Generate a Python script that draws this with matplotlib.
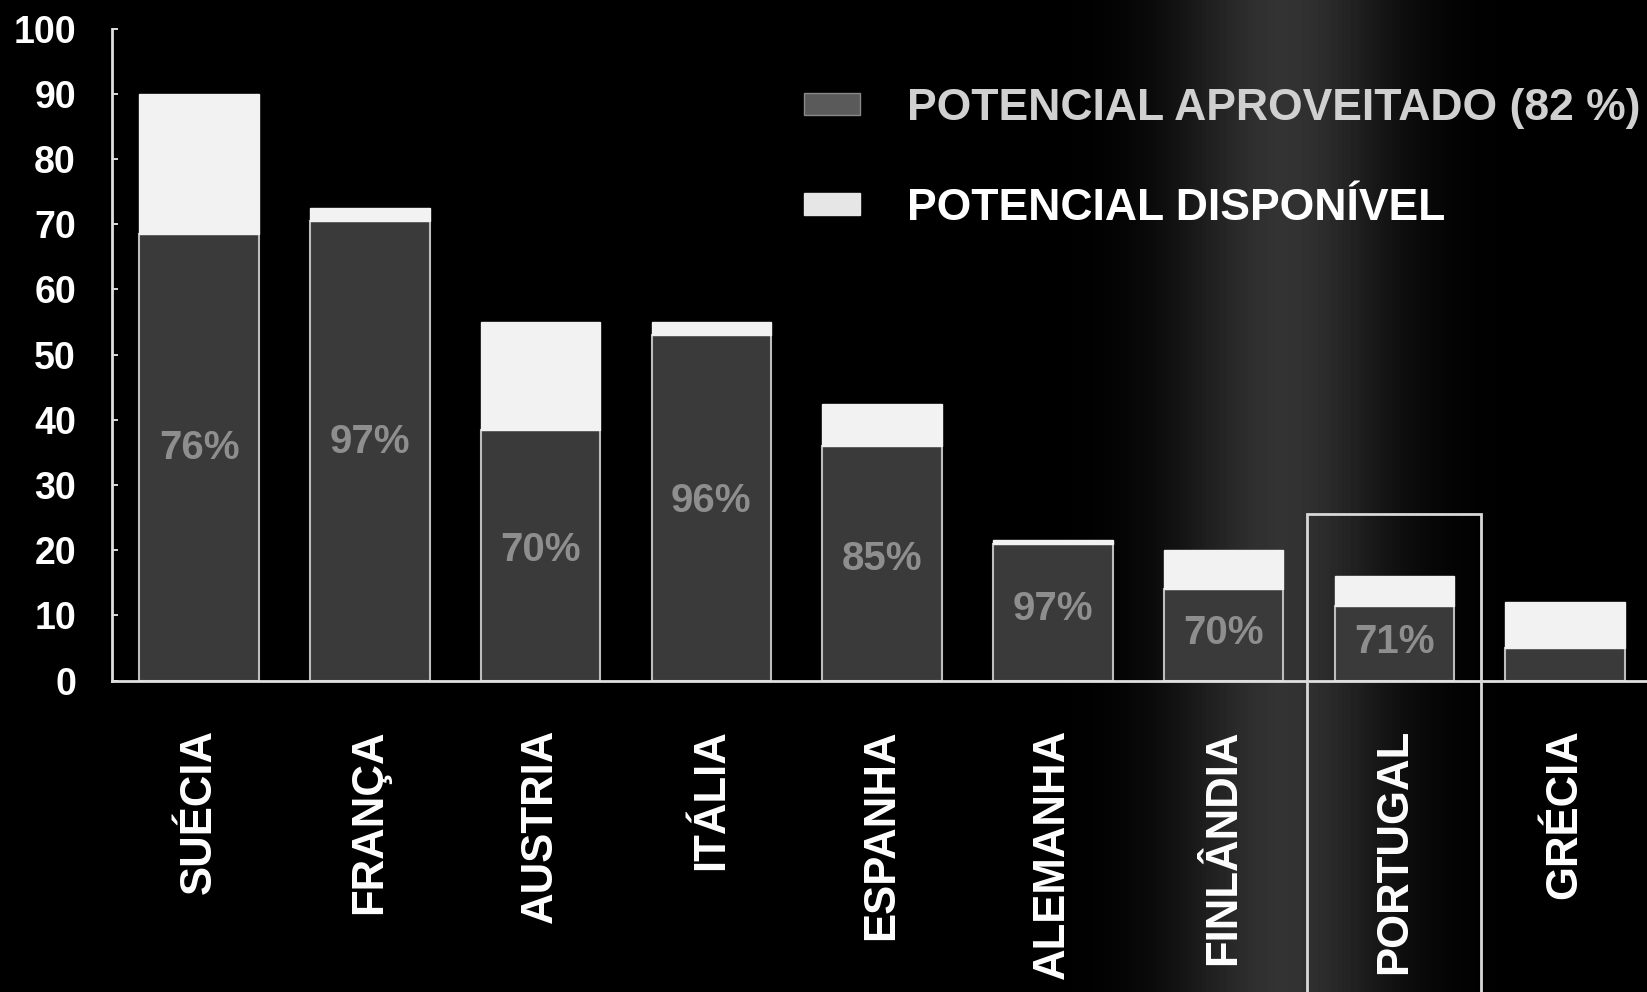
import matplotlib
matplotlib.use("Agg")
import matplotlib.pyplot as plt
from matplotlib.patches import Patch, Rectangle
import numpy as np

countries = ["SUÉCIA", "FRANÇA", "AUSTRIA", "ITÁLIA", "ESPANHA",
             "ALEMANHA", "FINLÂNDIA", "PORTUGAL", "GRÉCIA"]
total = [90, 72.5, 55, 55, 42.5, 21.5, 20, 16, 12]
used = [68.5, 70.5, 38.5, 53, 36, 21, 14, 11.5, 5]
pct_labels = ["76%", "97%", "70%", "96%", "85%", "97%", "70%", "71%", ""]
yticks = [0, 10, 20, 30, 40, 50, 60, 70, 80, 90, 100]
legend_labels = ["POTENCIAL APROVEITADO (82 %)", "POTENCIAL DISPONÍVEL"]
highlight = "PORTUGAL"
highlight_top = 25.6

plt.rcParams['font.family'] = ['Liberation Sans', 'DejaVu Sans']

fig = plt.figure(figsize=(16.47, 9.92), dpi=100, facecolor='black')

# faint scan band in the background
bg = fig.add_axes([0, 0, 1, 1], zorder=0)
bg.set_axis_off()
xs = np.linspace(0, 1, 400)
band = np.exp(-((xs - 0.78) / 0.065) ** 2) * 0.2
bg.imshow(band[None, :], aspect='auto', cmap='gray', vmin=0, vmax=1,
          extent=[0, 1, 0, 1], transform=bg.transAxes)

ax = fig.add_axes([0.068, 0.314, 0.932, 0.657], zorder=1)
ax.set_facecolor('none')

x = np.arange(len(countries))
width = 0.7
avail = [t - u for t, u in zip(total, used)]
ax.bar(x, used, width, color='#3a3a3a', edgecolor='#bdbdbd', linewidth=1.5,
       label=legend_labels[0])
ax.bar(x, avail, width, bottom=used, color='#f2f2f2', edgecolor='#f2f2f2',
       linewidth=1.0, label=legend_labels[1])

for xi, u, lab in zip(x, used, pct_labels):
    if lab:
        ax.text(xi, u * 0.52, lab, ha='center', va='center', fontsize=29,
                fontweight='bold', color='#8e8e8e')

# highlight box around Portugal
pi = countries.index(highlight)
ax.add_patch(Rectangle((pi - 0.51, -60), 1.02, highlight_top + 60,
                       fill=False, edgecolor='#d8d8d8', linewidth=2,
                       clip_on=False, zorder=3))

ax.set_xlim(-0.51, 8.48)
ax.set_ylim(0, 100)
ax.set_yticks(yticks)
ax.set_yticklabels([str(v) for v in yticks])
ax.set_xticks(x)
ax.set_xticklabels(countries, rotation=90)
ax.tick_params(axis='y', colors='white', labelsize=27, length=4,
               direction='in', pad=26, width=1.2)
ax.tick_params(axis='x', colors='white', labelsize=31.5, length=0, pad=35)
for lbl in ax.get_yticklabels() + ax.get_xticklabels():
    lbl.set_fontweight('bold')
    lbl.set_color('white')

for s in ['top', 'right']:
    ax.spines[s].set_visible(False)
ax.spines['left'].set_color('#e0e0e0')
ax.spines['bottom'].set_color('#e0e0e0')
ax.spines['left'].set_linewidth(2)
ax.spines['bottom'].set_linewidth(2)

handles = [Patch(facecolor='#5a5a5a', edgecolor='#888888'),
           Patch(facecolor='#e6e6e6', edgecolor='#e6e6e6')]
leg = ax.legend(handles, legend_labels, loc='upper left',
                bbox_to_anchor=(0.4245, 0.971), frameon=False,
                fontsize=32, handlelength=1.27, handleheight=0.4,
                handletextpad=1.05, labelspacing=1.33)
for i, t in enumerate(leg.get_texts()):
    t.set_fontweight('bold')
    t.set_color('#d0d0d0' if i == 0 else 'white')

fig.savefig('out.png', dpi=100, facecolor='black')
